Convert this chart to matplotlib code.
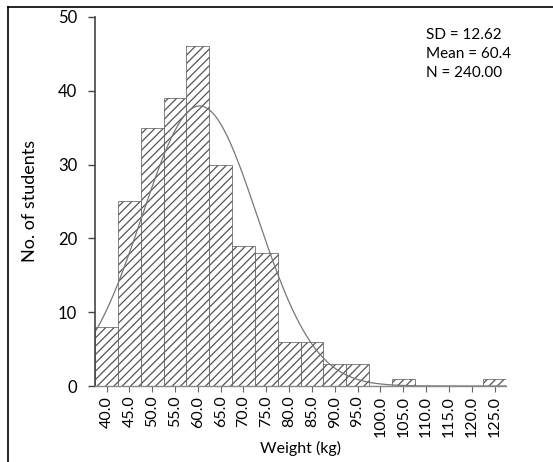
import matplotlib

matplotlib.use("Agg")
import matplotlib.pyplot as plt
import numpy as np
from matplotlib.lines import Line2D

# bin centres (kg) and counts per 5 kg bin
bin_centres = [40, 45, 50, 55, 60, 65, 70, 75, 80, 85, 90, 95,
               100, 105, 110, 115, 120, 125]
counts = [8, 25, 35, 39, 46, 30, 19, 18, 6, 6, 3, 3,
          0, 1, 0, 0, 0, 1]
tick_labels = [f"{c:.1f}" for c in bin_centres]
y_ticks = [0, 10, 20, 30, 40, 50]

SD, MEAN, N = 12.62, 60.4, 240
BIN_W = 5.0

plt.rcParams["font.family"] = ["Lato", "DejaVu Sans"]
plt.rcParams["hatch.linewidth"] = 0.9

fig = plt.figure(figsize=(5.53, 4.62), dpi=100)
ax = fig.add_axes([0.172, 0.1645, 0.743, 0.799])

ax.bar(bin_centres, counts, width=BIN_W, facecolor="white",
       edgecolor="#555555", linewidth=0.5, hatch="////")

# fitted normal curve from the stated mean / SD / N
xs = np.linspace(37.5, 127.5, 400)
ys = N * BIN_W / (SD * np.sqrt(2 * np.pi)) * np.exp(-0.5 * ((xs - MEAN) / SD) ** 2)
ax.plot(xs, ys, color="#777777", lw=0.9)

ax.set_xlim(37.5, 127.5)
ax.set_ylim(0, 50)
ax.set_xticks(bin_centres)
ax.set_xticklabels(tick_labels, rotation=90, fontsize=11.5)
ax.set_yticks(y_ticks)
ax.set_yticklabels([str(v) for v in y_ticks], fontsize=12)
ax.tick_params(axis="x", length=4, width=0.8, color="#666666", pad=3)
ax.tick_params(axis="y", length=5, width=1.0, color="#444444", pad=8)

for s in ["top", "right"]:
    ax.spines[s].set_visible(False)
ax.spines["left"].set_linewidth(1.2)
ax.spines["left"].set_color("#444444")
ax.spines["bottom"].set_linewidth(1.0)
ax.spines["bottom"].set_color("#888888")

ax.set_xlabel("Weight (kg)", fontsize=11.5, labelpad=3)
ax.set_ylabel("No. of students", fontsize=13, labelpad=14)

ax.text(0.805, 0.97, f"SD = {SD:.2f}\nMean = {MEAN}\nN = {N:.2f}",
        transform=ax.transAxes, ha="left", va="top", fontsize=11,
        linespacing=1.45)

# frame lines around the figure (left and top)
fig.add_artist(Line2D([8 / 553, 8 / 553], [0, 1 - 7 / 462], color="black", lw=1.2))
fig.add_artist(Line2D([8 / 553, 1], [1 - 7 / 462, 1 - 7 / 462], color="black", lw=1.2))

fig.savefig("out.png", dpi=100)
